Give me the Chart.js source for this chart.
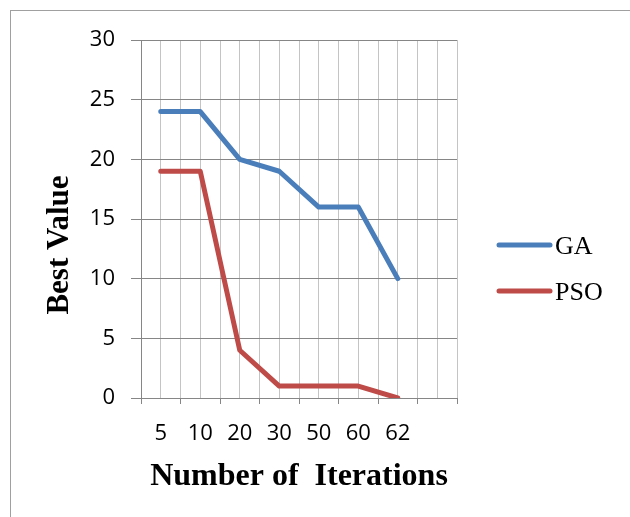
<!DOCTYPE html>
<html>
<head>
<meta charset="utf-8">
<script src="https://cdn.jsdelivr.net/npm/chart.js@4/dist/chart.umd.min.js"></script>
<style>
  html, body { margin: 0; padding: 0; background: #fff; overflow: hidden; }
  #wrap { position: relative; width: 630px; height: 517px; }
  #frame { position: absolute; left: 10px; top: 10px; width: 700px; height: 600px; border: 1.5px solid #a0a0a0; }
  canvas { position: absolute; left: 0; top: 0; }
</style>
</head>
<body>
<div id="wrap">
  <div id="frame"></div>
  <canvas id="chart" width="630" height="517"></canvas>
</div>
<script>
/* ===== Data ===== */
const iterations = ['5', '10', '20', '30', '50', '60', '62', ''];
const gaValues  = [24, 24, 20, 19, 16, 16, 10];
const psoValues = [19, 19, 4, 1, 1, 1, 0];
const yTicks = { min: 0, max: 30, step: 5 };

const SERIF = "'Liberation Serif', 'Times New Roman', serif";
const SANS = "'Open Sans', 'Noto Sans', sans-serif";

// y title sits lower than the plot centre in the original, so draw it by hand
const yTitlePlugin = {
    id: 'yTitle',
    afterDraw(chart) {
        const ctx = chart.ctx;
        ctx.save();
        ctx.translate(60, 245);
        ctx.rotate(-Math.PI / 2);
        ctx.font = 'bold 31px ' + SERIF;
        ctx.fillStyle = '#000';
        ctx.textAlign = 'center';
        ctx.textBaseline = 'middle';
        ctx.fillText('Best Value', 0, 0);
        ctx.restore();
    }
};

// Excel-style legend on the right: line sample + label
const sideLegend = {
    id: 'sideLegend',
    afterDraw(chart) {
        const ctx = chart.ctx;
        ctx.save();
        chart.data.datasets.forEach((ds, i) => {
            const y = 245 + i * 46;
            ctx.strokeStyle = ds.borderColor;
            ctx.lineWidth = 5;
            ctx.lineCap = 'round';
            ctx.beginPath();
            ctx.moveTo(499, y);
            ctx.lineTo(550, y);
            ctx.stroke();
            ctx.fillStyle = '#000';
            ctx.font = '26px ' + SERIF;
            ctx.textAlign = 'left';
            ctx.textBaseline = 'middle';
            ctx.fillText(ds.label, 555, y + 2);
        });
        ctx.restore();
    }
};

new Chart(document.getElementById('chart'), {
    type: 'line',
    data: {
        labels: iterations,
        datasets: [
            { label: 'GA', data: gaValues, borderColor: '#4A7EBB', backgroundColor: '#4A7EBB', borderWidth: 5 },
            { label: 'PSO', data: psoValues, borderColor: '#BE4B48', backgroundColor: '#BE4B48', borderWidth: 5 }
        ]
    },
    options: {
        responsive: false,
        animation: false,
        devicePixelRatio: 1,
        layout: { padding: { left: 0, top: 40, right: 173, bottom: 21 } },
        elements: {
            line: { tension: 0, borderCapStyle: 'round', borderJoinStyle: 'round' },
            point: { radius: 0, hoverRadius: 0 }
        },
        plugins: {
            tooltip: { enabled: false },
            legend: { display: false }
        },
        scales: {
            x: {
                offset: true,
                grid: { offset: true, color: '#c4c4c4', tickColor: '#868686', tickLength: 6 },
                border: { color: '#868686' },
                ticks: { color: '#000', font: { family: SANS, size: 22 }, padding: 17, maxRotation: 0, autoSkip: false },
                title: { display: true, text: 'Number of  Iterations', color: '#000', font: { family: SERIF, size: 32, weight: 'bold' }, padding: { top: 4, bottom: 0 } },
                afterFit(s) { s.height = 98; }
            },
            x2: {
                type: 'category',
                position: 'top',
                offset: true,
                grid: { offset: false, color: '#c4c4c4', drawTicks: false },
                border: { display: false },
                ticks: { display: false },
                afterFit(s) { s.height = 0; }
            },
            y: {
                min: yTicks.min,
                max: yTicks.max,
                ticks: { stepSize: yTicks.step, color: '#000', font: { family: SANS, size: 22 }, padding: 16 },
                grid: { color: '#868686', tickColor: '#868686', tickLength: 10 },
                border: { color: '#868686' },
                afterFit(s) { s.width = 141; }
            }
        }
    },
    plugins: [yTitlePlugin, sideLegend]
});
</script>
</body>
</html>
